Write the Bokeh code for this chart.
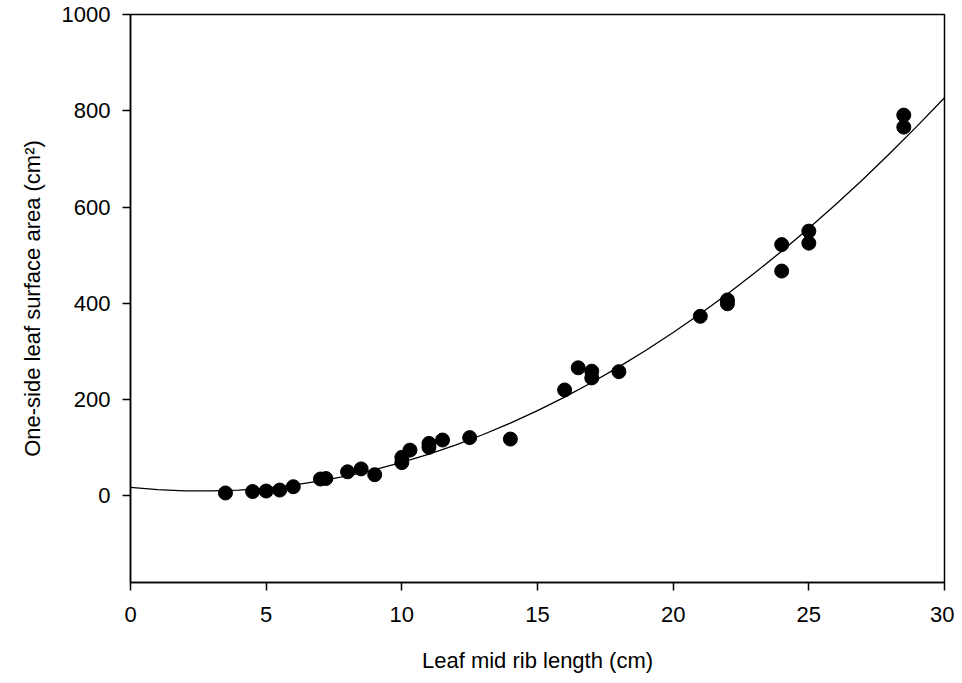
from bokeh.plotting import figure
from bokeh.models import Range1d, FixedTicker
from bokeh.embed import file_html
from bokeh.resources import INLINE

# Measured leaf data (mid rib length in cm, one-side surface area in cm^2)
rib_length = [3.5, 4.5, 5.0, 5.5, 6.0, 7.0, 7.2, 8.0, 8.5, 9.0, 10.0, 10.0,
              10.3, 11.0, 11.0, 11.5, 12.5, 14.0, 16.0, 16.5, 17.0, 17.0,
              18.0, 21.0, 22.0, 22.0, 24.0, 24.0, 25.0, 25.0, 28.5, 28.5]
leaf_area = [6, 9, 10, 12, 19, 35, 36, 50, 56, 44, 69, 80,
             95, 101, 109, 116, 121, 118, 220, 266, 245, 259,
             258, 373, 399, 407, 522, 467, 550, 525, 791, 766]

# Fitted curve at each whole centimetre
fit_x = [0, 1, 2, 3, 4, 5, 6, 7, 8, 9, 10, 11, 12, 13, 14, 15,
         16, 17, 18, 19, 20, 21, 22, 23, 24, 25, 26, 27, 28, 29, 30]
fit_y = [17.5, 12.9, 10.4, 10.2, 12.1, 16.2, 22.5, 30.9, 41.6, 54.4,
         69.4, 86.6, 105.9, 127.5, 151.2, 177.1, 205.2, 235.4, 267.9,
         302.5, 339.3, 378.3, 419.4, 462.8, 508.3, 556.0, 605.9, 657.9,
         712.2, 768.6, 827.2]

x_ticks = [0, 5, 10, 15, 20, 25, 30]
y_ticks = [0, 200, 400, 600, 800, 1000]

FONT = "Liberation Sans"
FS = "22px"

p = figure(width=954, height=675, output_backend="svg", toolbar_location=None,
           x_range=Range1d(0, 30), y_range=Range1d(-180, 1000),
           min_border_left=130, min_border_right=10, min_border_top=14,
           min_border_bottom=93)

p.xgrid.visible = False
p.ygrid.visible = False
p.outline_line_color = "black"
p.outline_line_width = 1.5
p.outline_line_alpha = 1.0
p.background_fill_color = "white"
p.border_fill_color = "white"

p.xaxis.ticker = FixedTicker(ticks=x_ticks)
p.yaxis.ticker = FixedTicker(ticks=y_ticks)

for ax in (p.xaxis[0], p.yaxis[0]):
    ax.axis_line_color = "black"
    ax.axis_line_width = 1.5
    ax.major_tick_line_color = "black"
    ax.major_tick_line_width = 1.5
    ax.major_tick_out = 8
    ax.major_tick_in = 0
    ax.minor_tick_line_color = None
    ax.major_label_text_font = FONT
    ax.major_label_text_font_size = FS
    ax.major_label_text_color = "black"
    ax.axis_label_text_font = FONT
    ax.axis_label_text_font_size = FS
    ax.axis_label_text_font_style = "normal"
    ax.axis_label_text_color = "black"

p.xaxis.axis_label = "Leaf mid rib length (cm)"
p.yaxis.axis_label = "One-side leaf surface area (cm²)"
p.xaxis.major_label_standoff = 16
p.yaxis.major_label_standoff = 12
p.xaxis.axis_label_standoff = 23
p.yaxis.axis_label_standoff = 14

p.line(fit_x, fit_y, line_color="black", line_width=1.3)
p.scatter(rib_length, leaf_area, size=14, marker="circle",
          fill_color="black", line_color="black")

open("out.html", "w").write(file_html(p, INLINE))
